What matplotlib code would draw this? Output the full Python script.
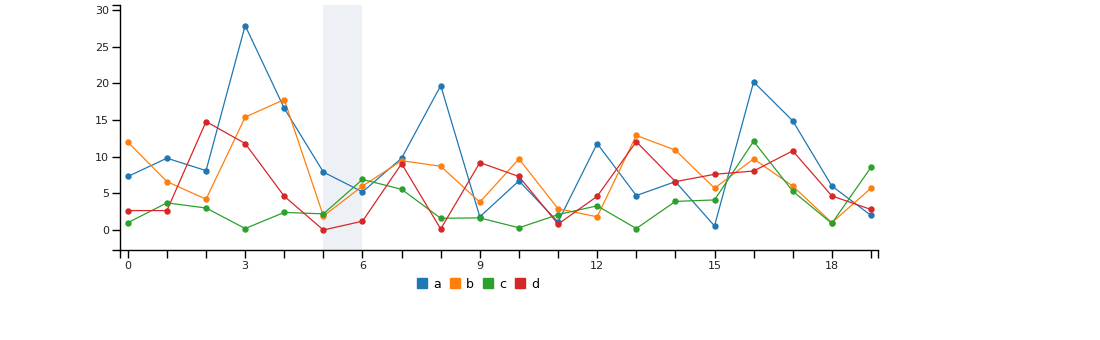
import matplotlib
matplotlib.use("Agg")
import matplotlib.pyplot as plt
from matplotlib.lines import Line2D

x = list(range(20))
a = [7.3, 9.8, 8.1, 27.9, 16.6, 7.9, 5.2, 9.8, 19.7, 1.8, 6.7, 1.1, 11.8, 4.7, 6.6, 0.55, 20.2, 14.9, 6.0, 2.0]
b = [12.0, 6.6, 4.2, 15.4, 17.8, 1.9, 6.0, 9.45, 8.7, 3.8, 9.7, 2.9, 1.8, 12.9, 10.9, 5.7, 9.7, 6.0, 1.0, 5.7]
c = [1.0, 3.7, 3.0, 0.2, 2.4, 2.2, 6.9, 5.55, 1.6, 1.65, 0.3, 2.1, 3.3, 0.2, 3.9, 4.1, 12.1, 5.3, 0.9, 8.55]
d = [2.65, 2.65, 14.8, 11.8, 4.6, 0.0, 1.2, 9.05, 0.14, 9.2, 7.3, 0.8, 4.6, 12.05, 6.6, 7.6, 8.05, 10.8, 4.65, 2.8]
series = {"a": a, "b": b, "c": c, "d": d}
colors = {"a": "#1f77b4", "b": "#ff7f0e", "c": "#2ca02c", "d": "#d62728"}
band = (5, 6)
x_tick_labels = [0, 3, 6, 9, 12, 15, 18]
y_ticks = [0, 5, 10, 15, 20, 25, 30]

W, H = 1100, 340
fig = plt.figure(figsize=(W / 100, H / 100), dpi=100)
ax = fig.add_axes([120 / W, 1 - 250 / H, (878 - 120) / W, (250 - 5) / H])

xmin, xmax = -0.2, 19.18
ymin, ymax = -2.73, 30.7
ax.set_xlim(xmin, xmax)
ax.set_ylim(ymin, ymax)

ax.axvspan(band[0], band[1], color="#edf1f6", zorder=0, lw=0)

for name, vals in series.items():
    ax.plot(x, vals, color=colors[name], lw=0.9, zorder=2)
for name, vals in series.items():
    ax.plot(x, vals, ls="none", marker="o", ms=3.6, color=colors[name], zorder=3)

for side in ("top", "right"):
    ax.spines[side].set_visible(False)
for side in ("left", "bottom"):
    ax.spines[side].set_linewidth(1)
    ax.spines[side].set_color("black")

ax.set_xticks(x_tick_labels + [xmin, xmax])
ax.set_xticklabels([str(v) for v in x_tick_labels] + ["", ""])
ax.set_xticks(x, minor=True)
ax.set_yticks(y_ticks + [ymin, ymax])
ax.set_yticklabels([str(v) for v in y_ticks] + ["", ""])
ax.tick_params(axis="both", which="both", length=6, width=1, color="black",
               labelsize=8, labelcolor="#222222", direction="out", pad=2)

handles = [Line2D([], [], ls="none", marker="s", ms=7.2, color=colors[n]) for n in series]
fig.legend(handles, list(series.keys()), loc="center", bbox_to_anchor=(478 / W, 1 - 284 / H),
           ncol=4, frameon=False, fontsize=9, handlelength=0.8, handletextpad=0.5,
           columnspacing=0.7)

fig.savefig("out.png", dpi=100)
